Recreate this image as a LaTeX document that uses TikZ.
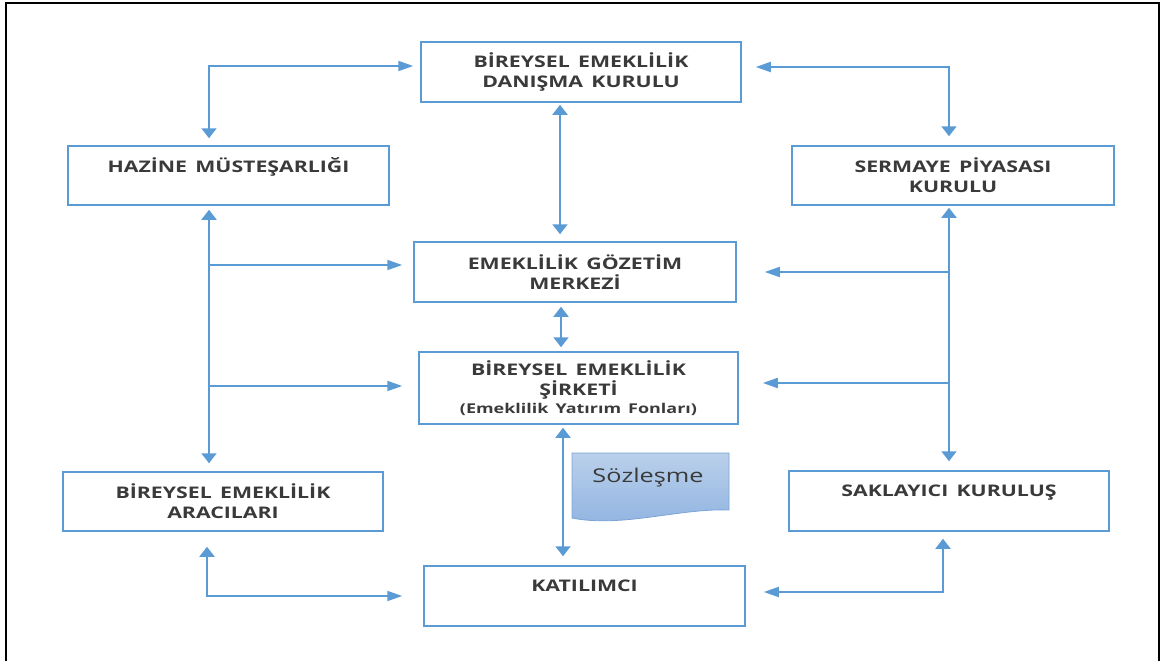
\documentclass[tikz,border=0pt]{standalone}
\usepackage{fontspec}
\setmainfont{Open Sans}[FakeStretch=1.33,WordSpace=1.5]
\usetikzlibrary{arrows.meta,calc,positioning}
\definecolor{bes-blue}{HTML}{5B9BD5}
\definecolor{bes-ink}{HTML}{3A3A3A}
\definecolor{bes-doctop}{HTML}{BAD0EB}
\definecolor{bes-docbot}{HTML}{8FB3E0}
\definecolor{bes-docline}{HTML}{7BA4D6}

\tikzset{
  yatay/.tip={Triangle[length=15pt,width=10pt]},
  dikey/.tip={Triangle[length=10pt,width=15pt]},
  kutu/.style={draw=bes-blue,line width=1.5pt,minimum width=320pt,minimum height=60pt,
    align=center,text=bes-ink,font=\bfseries\fontsize{16}{20}\selectfont},
  teksatir/.style={text depth=20pt},
  bag/.style={draw=bes-blue,line width=1.8pt,shorten <=7pt,shorten >=7pt},
}

\begin{document}
\begin{tikzpicture}[x=1pt,y=-1pt]
  % sayfa ve cerceve
  \useasboundingbox (0,0) rectangle (1167,661);
  \clip (0,0) rectangle (1167,661);
  \draw[line width=2.8pt] (6,3) rectangle (1159,700);

  % kurumlar
  \node[kutu] (dan) at (581,72) {BİREYSEL EMEKLİLİK\\DANIŞMA KURULU};
  \node[kutu,teksatir,minimum width=321pt,minimum height=59pt] (haz) at (228.5,175.5) {HAZİNE MÜSTEŞARLIĞI};
  \node[kutu,minimum width=322pt,minimum height=59pt] (ser) at (953,175.5) {SERMAYE PİYASASI\\KURULU};
  \node[kutu,minimum width=322pt] (goz) at (575,272) {EMEKLİLİK GÖZETİM\\MERKEZİ};
  \node[kutu,minimum width=319pt,minimum height=72pt] (sir) at (578.5,388)
    {BİREYSEL EMEKLİLİK\\ŞİRKETİ\\[-2pt]{\fontsize{13.5}{15}\selectfont(Emeklilik Yatırım Fonları)}};
  \node[kutu,minimum height=59pt] (ara) at (223,501.5) {BİREYSEL EMEKLİLİK\\ARACILARI};
  \node[kutu,teksatir] (sak) at (949,501) {SAKLAYICI KURULUŞ};
  \node[kutu,teksatir,minimum width=321pt] (kat) at (584.5,596) {KATILIMCI};

  % dikey hatlar
  \coordinate (L) at (209,0);
  \coordinate (R) at (949,0);
  \coordinate (M) at (560,0);

  % ust baglantilar
  \draw[bag,{dikey}-{yatay}] (haz.north -| L) |- ([yshift=6pt]dan.west);
  \draw[bag,{yatay}-{dikey},shorten <=14pt,shorten >=9pt] ([yshift=5pt]dan.east) -| (ser.north -| R);
  \draw[bag,{dikey}-{dikey},shorten <=2pt] (dan.south -| M) -- (goz.north -| M);
  \draw[bag,{dikey}-{dikey},shorten <=4pt,shorten >=4pt] ([xshift=1pt]goz.south -| M) -- ([xshift=1pt]sir.north -| M);
  \draw[bag,{dikey}-{dikey},shorten <=3pt,shorten >=9pt] ([xshift=3pt]sir.south -| M) -- ([xshift=3pt]kat.north -| M);

  % sol hat
  \draw[bag,{dikey}-{dikey},shorten <=4pt,shorten >=8pt] (haz.south -| L) -- (ara.north -| L);
  \draw[bag,shorten <=0pt,shorten >=11pt,-{yatay}] ([yshift=7pt]goz.west -| L) -- ([yshift=7pt]goz.west);
  \draw[bag,shorten <=0pt,shorten >=16pt,-{yatay}] ([yshift=2pt]sir.west -| L) -- ([yshift=2pt]sir.west);

  % sag hat
  \draw[bag,{dikey}-{dikey},shorten <=2pt,shorten >=9pt] (ser.south -| R) -- (sak.north -| R);
  \draw[bag,shorten <=0pt,shorten >=28pt,-{yatay}] (goz.east -| R) -- (goz.east);
  \draw[bag,shorten <=0pt,shorten >=24pt,-{yatay}] ([yshift=5pt]sir.east -| R) -- ([yshift=5pt]sir.east);

  % alt baglantilar
  \draw[bag,{dikey}-{yatay},shorten <=15pt,shorten >=21pt] ([xshift=-2pt]ara.south -| L) |- (kat.west);
  \draw[bag,{yatay}-{dikey},shorten <=18pt,shorten >=7pt] ([yshift=4pt]kat.east) -| ([xshift=-6pt]sak.south -| R);

  % sozlesme belgesi
  \path[top color=bes-doctop,bottom color=bes-docbot,draw=bes-docline,line width=0.8pt]
    (572,453) -- (729,453) -- (729,510)
    .. controls (680,508) and (622,528) .. (572,518) -- cycle;
  \node[text=bes-ink,font=\fontsize{19}{22}\selectfont] (soz) at (648,478) {Sözleşme};
\end{tikzpicture}
\end{document}
